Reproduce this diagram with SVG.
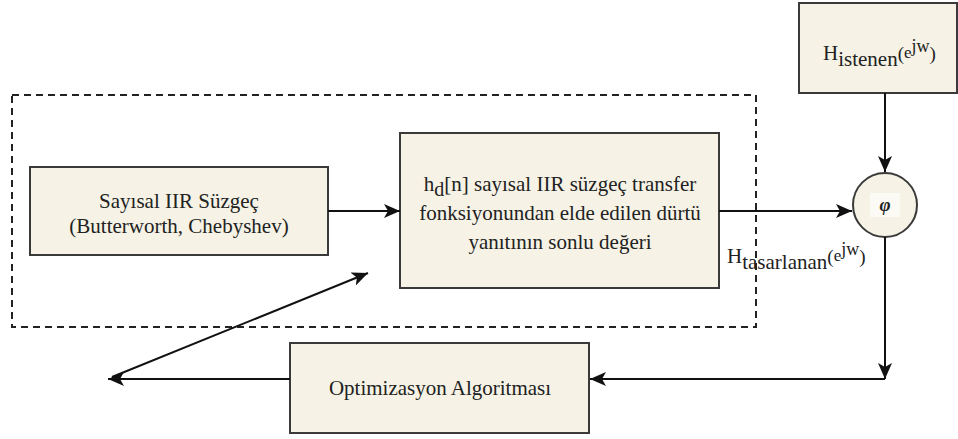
<svg xmlns="http://www.w3.org/2000/svg" width="958" height="439" viewBox="0 0 958 439">
<defs>
<marker id="ah" markerUnits="userSpaceOnUse" markerWidth="18" markerHeight="14" refX="16" refY="7" orient="auto">
<path d="M0,0 L16,7 L0,14 L4,7 z" fill="#111"/>
</marker>
<style>
.box{fill:#f6f3e6;stroke:#3a3a3a;stroke-width:2}
.t{font-family:"Liberation Serif","Times New Roman",serif;font-size:21px;fill:#222}
.c{text-anchor:middle}
.ln{stroke:#111;stroke-width:2;fill:none}
.dash{fill:none;stroke:#222;stroke-width:2;stroke-dasharray:7 5}
</style>
</defs>
<rect width="958" height="439" fill="#fff"/>
<rect id="group-boundary" class="dash" x="12" y="95" width="744" height="232"/>
<g id="node-iir">
<rect class="box" x="30" y="167" width="298" height="88"/>
<text class="t c" x="179" y="208">Sayısal IIR Süzgeç</text>
<text class="t c" x="179" y="233">(Butterworth, Chebyshev)</text>
</g>
<g id="node-hd">
<rect class="box" x="400" y="133" width="319" height="155"/>
<text class="t c" x="560" y="191">h<tspan font-size="20" dy="5">d</tspan><tspan dy="-5">[n] sayısal IIR süzgeç transfer</tspan></text>
<text class="t c" x="560" y="220">fonksiyonundan elde edilen dürtü</text>
<text class="t c" x="560" y="249">yanıtının sonlu değeri</text>
</g>
<g id="node-istenen">
<rect class="box" x="799" y="3" width="158" height="90"/>
<text class="t" x="823" y="60">H<tspan dy="6">istenen</tspan><tspan dy="-6" font-size="19">(</tspan><tspan font-size="17" dy="-2">e</tspan><tspan font-size="18" dy="-6">jw</tspan><tspan font-size="19" dy="8">)</tspan></text>
</g>
<g id="node-phi">
<circle cx="885" cy="205" r="32" fill="#f6f3e6" stroke="#3a3a3a" stroke-width="2"/>
<rect x="870" y="193" width="30" height="24" fill="#fbfaf5"/>
<text x="885" y="211" text-anchor="middle" font-family="Liberation Serif,serif" font-size="19" font-style="italic" font-weight="bold" fill="#222">φ</text>
</g>
<g id="node-opt">
<rect class="box" x="290" y="343" width="299" height="90"/>
<text class="t c" x="440" y="395">Optimizasyon Algoritması</text>
</g>
<g id="connectors">
<line class="ln" x1="328" y1="211" x2="400" y2="211" marker-end="url(#ah)"/>
<line class="ln" x1="719" y1="211" x2="852" y2="211" marker-end="url(#ah)"/>
<line class="ln" x1="885" y1="93" x2="885" y2="172" marker-end="url(#ah)"/>
<line class="ln" x1="885" y1="237" x2="885" y2="379" marker-end="url(#ah)"/>
<line class="ln" x1="885" y1="379" x2="590" y2="379" marker-end="url(#ah)"/>
<line class="ln" x1="290" y1="379" x2="108" y2="379" marker-end="url(#ah)"/>
<line class="ln" x1="112" y1="377" x2="368" y2="273" marker-end="url(#ah)"/>
</g>
<text id="label-tasarlanan" class="t" x="727" y="263">H<tspan dy="6">tasarlanan</tspan><tspan dy="-6" font-size="19">(</tspan><tspan font-size="17" dy="-2">e</tspan><tspan font-size="18" dy="-6">jw</tspan><tspan font-size="19" dy="8">)</tspan></text>
</svg>
